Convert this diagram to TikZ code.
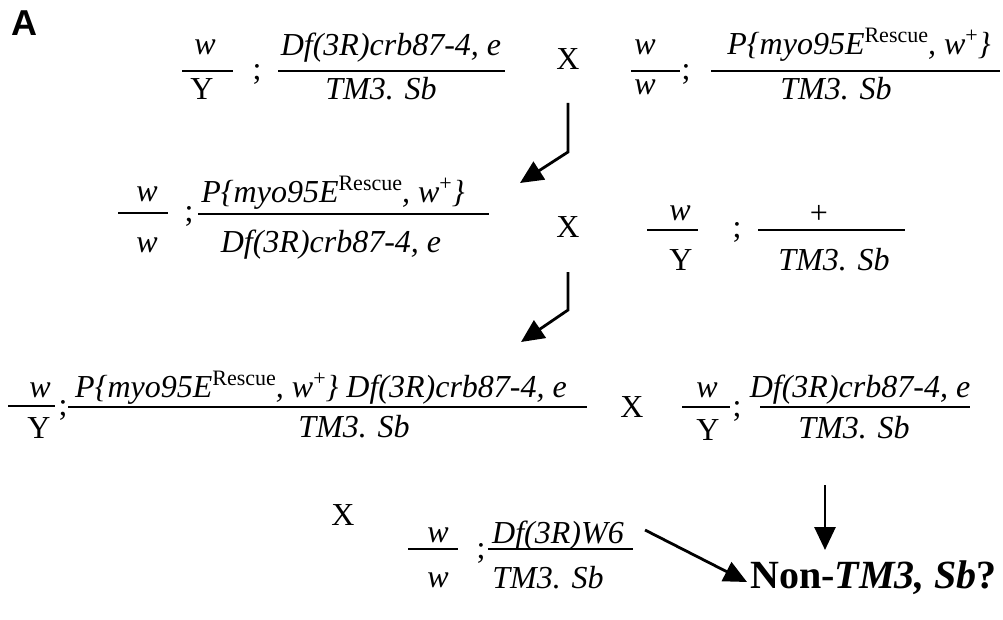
\documentclass[tikz,border=0pt]{standalone}
\usepackage{fontspec}
\setmainfont{Liberation Serif}
\newfontfamily\labelfont{Liberation Sans}
\usetikzlibrary{arrows.meta}
\newcommand\supr[1]{\raisebox{12pt}{\fontsize{22}{22}\selectfont\upshape #1}}
\tikzset{
  gt/.style={inner sep=0pt, anchor=base, font=\fontsize{32}{38}\selectfont\itshape},
  rmtxt/.style={inner sep=0pt, anchor=base, font=\fontsize{32}{38}\selectfont},
  fbar/.style={line width=2.4pt},
  arr/.style={line width=2.8pt, -{Triangle[length=23pt,width=21pt]}},
}
\begin{document}
\begin{tikzpicture}[x=1pt,y=-1pt]
\useasboundingbox (0,0) rectangle (1003,620);
% label
\node[inner sep=0pt, anchor=base west, font=\labelfont\bfseries\fontsize{36}{40}\selectfont] (lblA) at (11,36) {A};

% ---------- Row 1 ----------
\node[gt] (w1) at (205,55) {w};
\node[rmtxt] (Y1) at (202,100) {Y};
\draw[fbar] (182,71) -- (233,71);
\node[rmtxt] (s1) at (257,80) {;};
\node[gt] (n1) at (391,56) {Df(3R)crb87-4, e};
\draw[fbar] (278,71) -- (505,71);
\node[gt] (d1) at (381,100) {TM3. Sb};
\node[rmtxt] (X1) at (568,70) {X};
\node[gt] (w2) at (645,55) {w};
\node[gt] (w3) at (645,95) {w};
\draw[fbar] (631,71) -- (680,71);
\node[rmtxt] (s2) at (686,80) {;};
\node[gt] (n2) at (859,55) {P\{myo95E\supr{Rescue}, w\supr{+}\}};
\draw[fbar] (711,71) -- (1000,71);
\node[gt] (d2) at (836,100) {TM3. Sb};

% arrow 1
\coordinate (a1s) at (568,103);
\coordinate (a1m) at (568,152);
\coordinate (a1e) at (520,183);
\draw[arr] (a1s) -- (a1m) -- (a1e);

% ---------- Row 2 ----------
\node[gt] (w4) at (147,202) {w};
\node[gt] (w5) at (147,253) {w};
\draw[fbar] (118,213) -- (168,213);
\node[rmtxt] (s3) at (189,222) {;};
\node[gt] (n3) at (333,203) {P\{myo95E\supr{Rescue}, w\supr{+}\}};
\draw[fbar] (198,214) -- (489,214);
\node[gt] (d3) at (331,253) {Df(3R)crb87-4, e};
\node[rmtxt] (X2) at (568,237) {X};
\node[gt] (w6) at (680,221) {w};
\node[rmtxt] (Y2) at (681,270) {Y};
\draw[fbar] (647,230) -- (698,230);
\node[rmtxt] (s4) at (737,238) {;};
\node[rmtxt] (pl) at (819,224) {+};
\draw[fbar] (758,230) -- (905,230);
\node[gt] (d4) at (834,270) {TM3. Sb};

% arrow 2
\coordinate (a2s) at (568,272);
\coordinate (a2m) at (568,310);
\coordinate (a2e) at (521,342);
\draw[arr] (a2s) -- (a2m) -- (a2e);

% ---------- Row 3 ----------
\node[gt] (w7) at (40,397) {w};
\node[rmtxt] (Y3) at (39,438) {Y};
\draw[fbar] (8,406) -- (55,406);
\node[rmtxt] (s5) at (63,415) {;};
\node[gt, anchor=base west] (n4) at (75,397) {P\{myo95E\supr{Rescue}, w\supr{+}\} Df(3R)crb87-4, e};
\draw[fbar] (68,407) -- (587,407);
\node[gt] (d5) at (354,437) {TM3. Sb};
\node[rmtxt] (X3) at (632,417) {X};
\node[gt] (w8) at (707,397) {w};
\node[rmtxt] (Y4) at (708,440) {Y};
\draw[fbar] (682,407) -- (730,407);
\node[rmtxt] (s6) at (737,416) {;};
\node[gt] (n5) at (860,397) {Df(3R)crb87-4, e};
\draw[fbar] (760,407) -- (970,407);
\node[gt] (d6) at (854,438) {TM3. Sb};

% ---------- Row 4 ----------
\node[rmtxt] (X4) at (343,525) {X};
\node[gt] (w9) at (438,542) {w};
\node[gt] (w10) at (438,587) {w};
\draw[fbar] (408,549) -- (458,549);
\node[rmtxt] (s7) at (481,558) {;};
\node[gt] (n6) at (558,543) {Df(3R)W6};
\draw[fbar] (488,549) -- (633,549);
\node[gt] (d7) at (548,588) {TM3. Sb};

\node[inner sep=0pt, anchor=base west, font=\fontsize{40}{46}\selectfont\bfseries] (res) at (750,588) {Non-\textit{TM3, Sb}?};

\coordinate (a3s) at (645,530);
\coordinate (a3e) at (747,582);
\coordinate (a4s) at (825,485);
\coordinate (a4e) at (825,550);
\draw[arr] (a3s) -- (a3e);
\draw[arr] (a4s) -- (a4e);
\end{tikzpicture}
\end{document}
